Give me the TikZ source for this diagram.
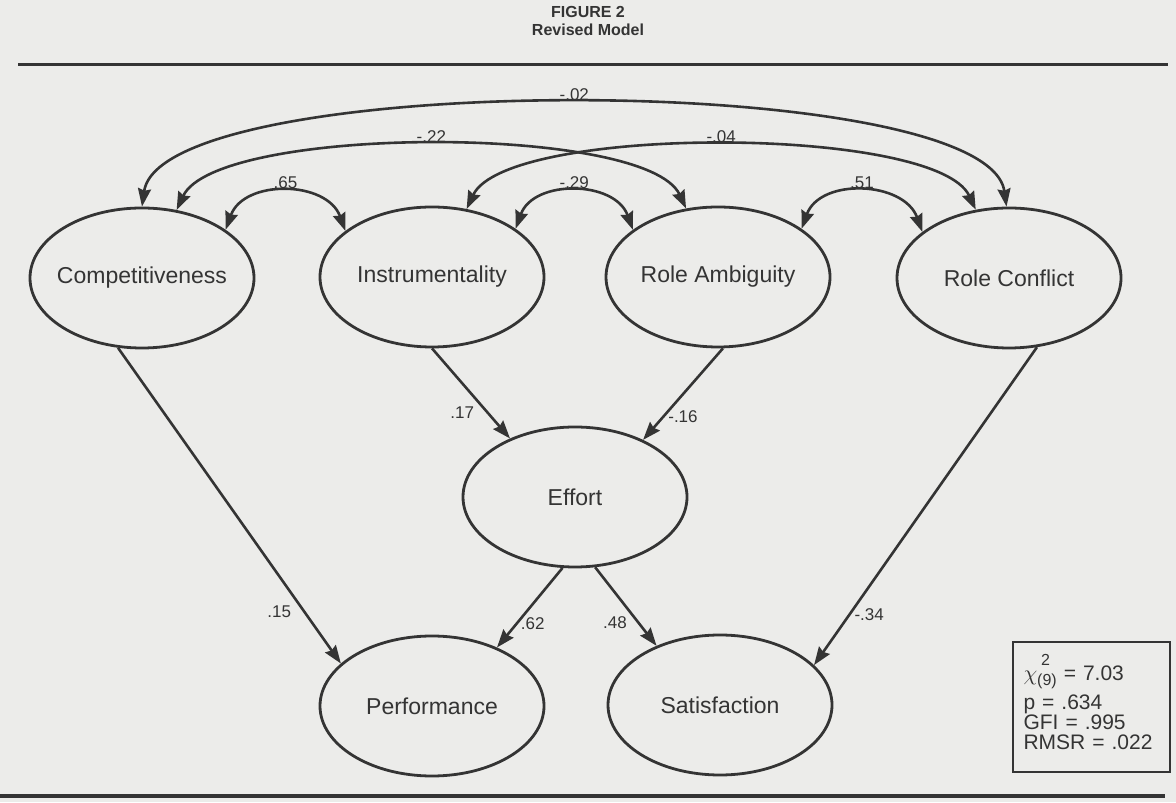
\documentclass[tikz,border=0pt]{standalone}
\usepackage{amsmath}
\usepackage{fontspec}
\setmainfont{Liberation Sans}
\usepackage{tikz}
\usetikzlibrary{arrows.meta,shapes.geometric}

\definecolor{paper}{RGB}{236,236,234}
\definecolor{ink}{RGB}{52,52,52}

\begin{document}
\begin{tikzpicture}[x=0.5pt,y=0.5pt,
  latent/.style={ellipse,draw=ink,line width=1.4pt,minimum width=112pt,minimum height=70pt,
    inner xsep=-4pt,inner ysep=0pt,text=ink,font=\fontsize{11.5}{13}\selectfont},
  effect/.style={draw=ink,line width=1.3pt,-{Stealth[length=9pt,width=6.5pt,inset=1pt]}},
  cov/.style={draw=ink,line width=1.3pt,
    {Stealth[length=9pt,width=6.5pt,inset=1pt]}-{Stealth[length=9pt,width=6.5pt,inset=1pt]}},
  coef/.style={text=ink,font=\fontsize{8.5}{10}\selectfont,inner sep=1pt}]
\fill[paper] (0,0) rectangle (1176,802);
\useasboundingbox (0,0) rectangle (1176,802);

\node[text=ink,align=center,font=\bfseries\fontsize{8}{9}\selectfont] (title) at (588,781) {FIGURE 2\\Revised Model};
\draw[ink,line width=1.5pt] (18,737) -- (1168,737);
\draw[ink,line width=2pt] (0,6) -- (1165,6);

\node[latent] (comp) at (142,524) {Competitiveness};
\node[latent] (instr) at (432,525) {Instrumentality};
\node[latent] (amb) at (718,525) {Role Ambiguity};
\node[latent] (conf) at (1009,524) {Role Conflict};
\node[latent] (effort) at (575,305) {Effort};
\node[latent] (perf) at (432,96) {Performance};
\node[latent] (satis) at (720,97) {Satisfaction};

\node[draw=ink,line width=1.3pt,minimum width=78.5pt,minimum height=65pt,text width=68pt,
  align=left,inner sep=0pt,text=ink,font=\fontsize{10.5}{10}\selectfont] (fit) at (1091.5,95)
  {$\chi$\rlap{\raisebox{7.5pt}{\footnotesize\hspace{2pt}2}}\raisebox{-2.5pt}{\footnotesize(9)} = 7.03\\[2pt]
   p = .634\\GFI = .995\\RMSR = .022\rule[-5pt]{0pt}{0pt}};

\draw[cov] (comp.30) to[out=70,in=110,looseness=1.15] node[coef,above] {.65} (instr.152);
\draw[cov] (instr.30) to[out=70,in=110,looseness=1.15] node[coef,above] {-.29} (amb.151);
\draw[cov] (amb.30) to[out=70,in=110,looseness=1.15] node[coef,above] {.51} (conf.152);
\draw[cov] (comp.63) to[out=65,in=115,looseness=0.47] node[coef,above] {-.22} (amb.115);
\draw[cov] (instr.63) to[out=65,in=115,looseness=0.47] node[coef,above] {-.04} (conf.116);
\draw[cov] (comp.north) to[out=82,in=98,looseness=0.41] node[coef,above] {-.02} (conf.92);

\draw[effect] (comp.251) -- node[coef,pos=0.836,left=5pt] {.15} (perf.155);
\draw[effect] (instr.south) -- node[coef,pos=0.71,left=5pt] {.17} (effort.138);
\draw[effect] (amb.274) -- node[coef,pos=0.75,right=1pt] {-.16} (effort.40);
\draw[effect] (conf.292) -- node[coef,pos=0.842,right=1pt] {-.34} (satis.23);
\draw[effect] (effort.260) -- node[coef,pos=0.7,right=0.5pt] {.62} (perf.42);
\draw[effect] (effort.286) -- node[coef,pos=0.7,left=4pt] {.48} (satis.137);
\end{tikzpicture}
\end{document}
